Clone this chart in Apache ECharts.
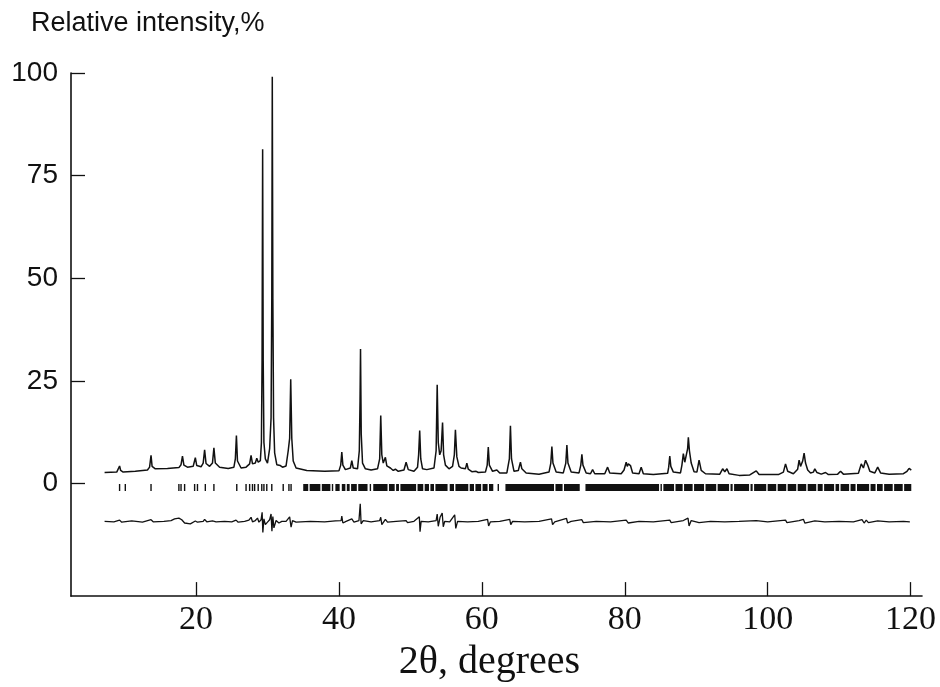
<!DOCTYPE html>
<html>
<head>
<meta charset="utf-8">
<script src="https://cdn.jsdelivr.net/npm/echarts@6/dist/echarts.min.js"></script>
<style>html,body{margin:0;padding:0;background:#fff;}#chart{width:940px;height:687px;}</style>
</head>
<body>
<div id="chart"></div>
<script>
// ---- data (2theta in degrees, relative intensity in %) ----
var xTicks = [20, 40, 60, 80, 100, 120];
var yTicks = [0, 25, 50, 75, 100];

var pattern = [
[7.2,2.7],[8.9,2.8],[9.15,3.2],[9.3,4.3],[9.45,3.2],[9.8,2.8],[11.5,3.0],[13.2,3.3],[13.5,4.0],[13.7,6.9],[13.85,4.2],[14.3,3.6],[16.0,3.7],[17.6,3.9],[17.9,4.6],[18.1,6.7],[18.3,4.5],[18.8,4.0],[19.6,4.2],[19.9,6.3],[20.1,4.4],[20.7,4.1],[21.0,5.0],[21.2,8.2],[21.4,4.9],[21.9,4.2],[22.3,5.0],[22.5,8.7],[22.7,5.0],[23.3,4.0],[24.5,3.7],[25.3,4.0],[25.5,6.0],[25.65,11.7],[25.8,5.5],[26.3,3.8],[27.0,4.0],[27.5,4.8],[27.7,6.9],[27.9,4.8],[28.3,5.0],[28.5,6.2],[28.7,5.2],[29.0,5.6],[29.15,10],[29.24,30],[29.32,81.4],[29.4,30],[29.5,10],[29.7,6.0],[30.0,5.0],[30.3,8.5],[30.5,16],[30.6,45],[30.67,99.1],[30.75,45],[30.85,16],[31.0,7.5],[31.3,4.6],[31.8,4.4],[32.1,4.0],[32.6,4.3],[32.9,8.0],[33.1,11],[33.25,25.4],[33.4,11],[33.6,5.5],[34.0,3.8],[35.5,3.2],[38.0,3.0],[40.0,3.1],[40.25,4.5],[40.4,7.7],[40.55,4.5],[40.9,3.4],[41.6,3.8],[41.8,5.6],[42.0,3.8],[42.6,3.6],[42.85,8],[42.95,20],[43.02,32.8],[43.12,12],[43.3,5],[43.7,3.6],[44.5,3.3],[45.4,3.6],[45.7,6.0],[45.85,16.6],[46.0,7],[46.2,5.0],[46.5,6.4],[46.7,4.3],[47.2,3.8],[47.6,3.2],[47.9,3.5],[48.3,3.0],[49.1,3.3],[49.4,5.2],[49.7,3.4],[50.5,3.0],[51.0,4.0],[51.15,7],[51.3,12.9],[51.45,6],[51.7,3.6],[52.3,3.4],[53.3,3.8],[53.6,8],[53.75,24.1],[53.9,10],[54.1,7],[54.3,8],[54.5,14.9],[54.65,7],[54.9,4.5],[55.4,3.6],[55.9,4.2],[56.15,7],[56.3,13.1],[56.5,6.5],[56.8,4.2],[57.1,3.8],[57.7,3.6],[57.9,5.0],[58.1,3.5],[58.6,2.9],[59.2,3.0],[59.5,2.7],[60.5,2.8],[60.75,4.5],[60.9,8.9],[61.05,4.5],[61.5,3.0],[62.1,3.3],[62.5,2.6],[63.5,2.6],[63.85,6],[64.0,14.1],[64.15,6],[64.5,3.0],[65.1,3.2],[65.4,5.2],[65.6,3.6],[65.8,4.0],[66.2,2.6],[68.0,2.3],[69.4,2.8],[69.65,5],[69.8,9.0],[69.95,5],[70.4,2.8],[71.4,2.6],[71.75,5],[71.9,9.4],[72.05,5],[72.5,2.8],[73.6,2.6],[73.85,4.5],[74.0,7.1],[74.15,4.5],[74.6,2.6],[75.2,2.4],[75.5,3.4],[75.8,2.4],[77.2,2.4],[77.6,4.0],[77.9,2.6],[79.5,2.4],[79.9,3.3],[80.2,5.2],[80.35,4.2],[80.5,4.8],[80.8,4.4],[81.1,2.6],[82.0,2.4],[82.3,4.0],[82.6,2.4],[84.0,2.2],[86.0,2.5],[86.15,4],[86.3,6.7],[86.45,4.2],[86.8,2.8],[87.8,2.6],[88.0,4.5],[88.2,7.3],[88.4,5.2],[88.6,5.5],[88.8,8.5],[88.9,11.3],[89.05,8],[89.3,5],[89.7,2.9],[90.1,2.8],[90.4,5.7],[90.7,3.2],[91.3,2.4],[93.3,2.3],[93.7,3.6],[94.0,2.9],[94.3,3.6],[94.6,2.4],[96.0,2.0],[97.5,2.1],[98.4,3.1],[98.8,2.2],[101.5,2.2],[102.2,2.8],[102.5,4.8],[102.8,3.0],[103.6,2.4],[104.2,3.5],[104.4,5.7],[104.6,4.2],[104.9,5.5],[105.1,7.4],[105.3,5.0],[105.6,3.3],[106.0,2.6],[106.4,2.8],[106.6,3.6],[106.9,2.7],[107.5,2.3],[108.1,2.7],[108.5,2.2],[109.8,2.3],[110.2,3.0],[110.6,2.3],[112.7,2.5],[113.1,4.8],[113.4,3.8],[113.7,5.7],[114.0,4.5],[114.3,3.0],[115.0,2.6],[115.4,4.0],[115.8,2.6],[117.0,2.3],[119.0,2.4],[119.5,3.0],[119.8,3.7],[120.1,3.3]
];

var difference = [
[7.2,-9.2],[8.5,-9.3],[9.3,-8.9],[9.6,-9.4],[11,-9.1],[12.5,-9.4],[13.7,-8.8],[14.0,-9.3],[15.5,-9.2],[16.5,-9.0],[17.0,-8.6],[17.6,-8.4],[18.0,-8.8],[18.4,-9.6],[19.2,-9.8],[19.9,-9.1],[20.2,-9.4],[21.0,-9.2],[21.2,-8.7],[21.5,-9.3],[22.3,-9.1],[22.5,-8.8],[22.8,-9.3],[24.0,-9.2],[25.0,-9.3],[25.6,-8.9],[25.9,-9.4],[26.8,-9.2],[27.4,-8.9],[27.7,-8.2],[27.9,-9.3],[28.3,-9.0],[28.6,-8.4],[28.8,-9.4],[29.1,-8.8],[29.25,-7.0],[29.35,-11.9],[29.5,-8.6],[29.7,-10.0],[30.0,-9.4],[30.3,-8.8],[30.5,-7.4],[30.62,-11.6],[30.75,-8.0],[30.9,-10.8],[31.2,-9.0],[31.6,-9.6],[32.0,-9.2],[32.2,-9.6],[32.6,-9.2],[33.1,-8.1],[33.3,-10.6],[33.5,-9.0],[34.0,-9.4],[36.0,-9.2],[38.0,-9.3],[39.5,-9.1],[40.3,-9.0],[40.4,-7.9],[40.55,-9.6],[41.0,-9.2],[41.8,-8.6],[42.1,-9.4],[42.8,-9.0],[42.98,-4.9],[43.1,-9.8],[43.4,-9.0],[44.5,-9.3],[45.7,-9.0],[45.85,-8.2],[46.0,-10.0],[46.5,-8.7],[46.8,-9.4],[48,-9.2],[49.4,-9.0],[49.6,-9.5],[50.5,-9.2],[51.25,-8.1],[51.35,-11.7],[51.5,-9.2],[52.5,-9.3],[53.6,-9.0],[53.75,-7.4],[53.9,-10.4],[54.15,-8.2],[54.45,-7.2],[54.6,-10.5],[54.8,-9.2],[55.5,-9.3],[56.2,-7.6],[56.35,-10.9],[56.6,-9.2],[58,-9.3],[59.5,-9.2],[60.8,-8.7],[60.95,-10.3],[61.2,-9.3],[62.5,-9.2],[63.9,-8.7],[64.05,-10.0],[64.3,-9.2],[66,-9.3],[68,-9.2],[69.75,-8.6],[69.9,-10.0],[70.2,-9.3],[71.85,-8.5],[72.0,-9.6],[72.5,-9.2],[74.0,-8.8],[74.2,-9.5],[76,-9.2],[78,-9.3],[80.2,-8.9],[80.5,-9.6],[82,-9.2],[84,-9.3],[86.3,-8.9],[86.5,-9.5],[88.2,-9.0],[88.85,-8.4],[89.0,-10.3],[89.3,-9.0],[90.4,-9.5],[92,-9.2],[94,-9.3],[96,-9.2],[98.4,-9.0],[100,-9.3],[102.5,-8.9],[102.7,-9.5],[104.4,-9.0],[105.0,-8.7],[105.2,-9.6],[106.6,-9.1],[108,-9.3],[110,-9.2],[112,-9.3],[113.2,-8.8],[113.5,-9.6],[113.8,-8.9],[114.1,-9.5],[115.4,-9.1],[117,-9.3],[119,-9.2],[119.9,-9.3]
];

// Bragg reflection positions (single lines) and dense groups of reflections [from, to]
var reflections = [9.3,10.1,13.7,17.6,17.9,18.4,19.8,20.2,21.3,22.5,25.7,27.0,27.5,27.9,28.2,28.7,29.2,29.5,29.9,30.6,32.2,33.0,33.3,39.1,44.4,62.3];
var reflectionGroups = [
[35.0,35.7],[35.9,37.4],[37.6,38.8],[39.5,40.1],[40.4,40.9],[41.1,41.5],[41.7,42.5],[42.7,44.0],[44.8,46.8],[47.0,47.8],[48.0,48.4],[48.6,50.8],[51.0,51.8],[52.0,52.6],[52.8,53.3],[53.5,55.2],[55.5,56.1],[56.3,58.1],[58.3,58.9],[59.1,59.9],[60.1,60.8],[61.0,61.6],[63.3,70.1],[70.3,71.3],[71.5,73.7],[74.5,84.8],[85.0,85.2],[85.4,86.9],[87.1,88.1],[88.3,89.5],[89.7,91.1],[91.3,92.8],[93.0,94.6],[94.8,95.1],[95.3,97.4],[97.6,97.9],[98.1,99.8],[100.0,101.2],[101.4,102.6],[102.8,104.0],[104.2,105.4],[105.6,106.8],[107.0,107.7],[107.9,109.3],[109.5,110.0],[110.2,111.4],[111.6,112.3],[112.5,114.2],[114.4,115.1],[115.3,116.1],[116.3,117.5],[117.7,118.9],[119.1,120.1]
];

var tickRows = reflections.map(function (v) { return [v, v]; }).concat(reflectionGroups);

var chart = echarts.init(document.getElementById('chart'), null, {renderer: 'canvas'});
var ink = '#111';

chart.setOption({
  animation: false,
  backgroundColor: '#fff',
  grid: {left: 71, right: 18, top: 73, bottom: 87, containLabel: false},
  graphic: [{
    type: 'text', left: 31, top: 10,
    style: {text: 'Relative intensity,%', fill: ink, font: '27px "Liberation Sans", Arial, sans-serif'}
  }],
  xAxis: {
    type: 'value', min: 2.5, max: 121.6,
    name: '2θ, degrees', nameLocation: 'middle', nameGap: 32,
    nameTextStyle: {fontFamily: '"Liberation Serif", "Times New Roman", serif', fontSize: 40, color: ink, padding: [0, 14, 0, 0]},
    axisLine: {onZero: false, lineStyle: {color: ink, width: 1.6}},
    axisTick: {inside: true, length: 14, lineStyle: {color: ink, width: 1.3}, customValues: xTicks},
    axisLabel: {customValues: xTicks, margin: 7, color: ink, fontFamily: '"Liberation Serif", "Times New Roman", serif', fontSize: 34},
    splitLine: {show: false}
  },
  yAxis: {
    type: 'value', min: -27.4, max: 100,
    axisLine: {show: true, onZero: false, lineStyle: {color: ink, width: 1.6}},
    axisTick: {show: true, inside: true, length: 14, lineStyle: {color: ink, width: 1.3}, customValues: yTicks},
    axisLabel: {customValues: yTicks, margin: 13, color: ink, fontFamily: '"Liberation Sans", Arial, sans-serif', fontSize: 28},
    splitLine: {show: false}
  },
  series: [
    {
      type: 'line', data: pattern, symbol: 'none', clip: false,
      lineStyle: {color: ink, width: 1.5}
    },
    {
      type: 'line', data: difference, symbol: 'none', clip: false,
      lineStyle: {color: ink, width: 1.3}
    },
    {
      type: 'custom', data: tickRows,
      encode: {x: [0, 1]},
      renderItem: function (params, api) {
        var a = api.coord([api.value(0), -0.1]);
        var b = api.coord([api.value(1), -1.8]);
        var narrow = (b[0] - a[0]) < 1.4;
        return {
          type: 'rect',
          shape: {x: narrow ? a[0] - 0.7 : a[0], y: a[1], width: narrow ? 1.4 : b[0] - a[0], height: b[1] - a[1]},
          style: {fill: ink}
        };
      }
    }
  ]
});
</script>
</body>
</html>
